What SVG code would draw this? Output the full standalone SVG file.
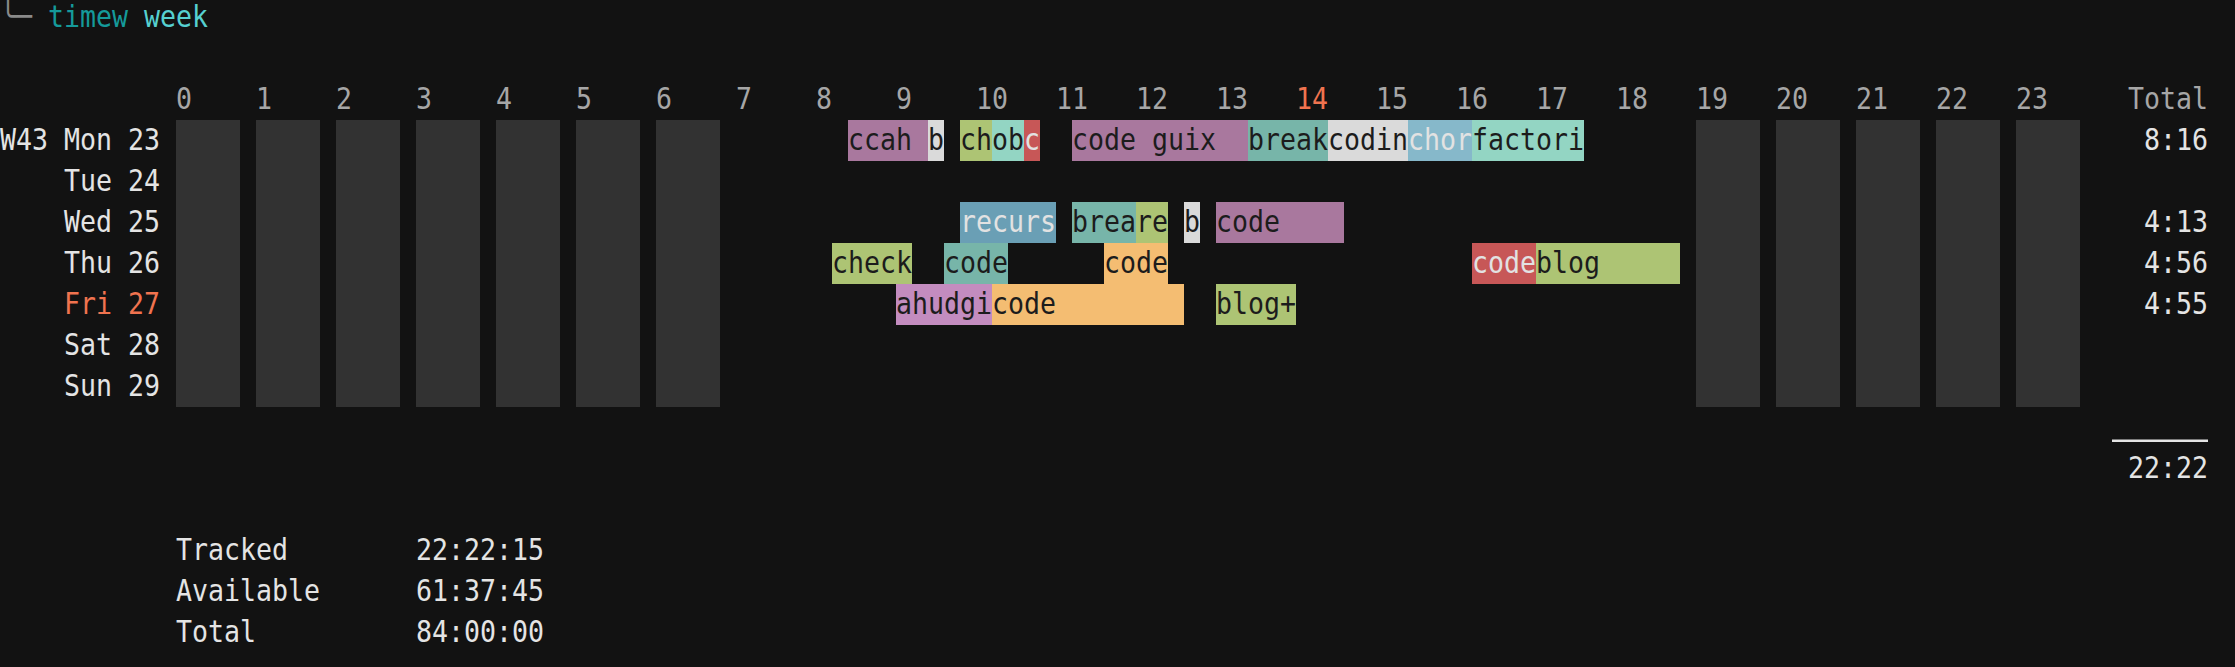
<svg xmlns="http://www.w3.org/2000/svg" width="2235" height="667" viewBox="0 0 2235 667">
<style>
text { font-family: "DejaVu Sans Mono", "Liberation Mono", monospace; font-size: 31px; }
.lbl { fill: #e4e4e4; }
.hr { fill: #a6a6a6; }
.now { fill: #f0734f; }
.dk { fill: #1c1c1c; }
.lt { fill: #e2e2e2; }
.prompt { fill: #8a8a8a; }
.cmd { fill: #159a9a; }
.arg { fill: #56d0d0; }
.bar { fill: #323232; }
.pu { fill: #a9789e; }
.lg { fill: #dadada; }
.gr { fill: #adc474; }
.mi { fill: #93d5c3; }
.rd { fill: #c75757; }
.te { fill: #77b5a9; }
.cb { fill: #86b8ca; }
.rb { fill: #6a9fb5; }
.or { fill: #f4bd72; }
.pk { fill: #c38cbf; }
</style>
<rect x="0" y="0" width="2235" height="667" fill="#121212"/>

<g id="title">
<text class="prompt" x="0" y="27" textLength="32" lengthAdjust="spacingAndGlyphs">╰─</text>
<text class="cmd" x="48" y="27" textLength="80" lengthAdjust="spacingAndGlyphs">timew</text>
<text class="arg" x="144" y="27" textLength="64" lengthAdjust="spacingAndGlyphs">week</text>
</g>

<g id="hours">
<text class="hr" x="176" y="109" textLength="16" lengthAdjust="spacingAndGlyphs">0</text>
<text class="hr" x="256" y="109" textLength="16" lengthAdjust="spacingAndGlyphs">1</text>
<text class="hr" x="336" y="109" textLength="16" lengthAdjust="spacingAndGlyphs">2</text>
<text class="hr" x="416" y="109" textLength="16" lengthAdjust="spacingAndGlyphs">3</text>
<text class="hr" x="496" y="109" textLength="16" lengthAdjust="spacingAndGlyphs">4</text>
<text class="hr" x="576" y="109" textLength="16" lengthAdjust="spacingAndGlyphs">5</text>
<text class="hr" x="656" y="109" textLength="16" lengthAdjust="spacingAndGlyphs">6</text>
<text class="hr" x="736" y="109" textLength="16" lengthAdjust="spacingAndGlyphs">7</text>
<text class="hr" x="816" y="109" textLength="16" lengthAdjust="spacingAndGlyphs">8</text>
<text class="hr" x="896" y="109" textLength="16" lengthAdjust="spacingAndGlyphs">9</text>
<text class="hr" x="976" y="109" textLength="32" lengthAdjust="spacingAndGlyphs">10</text>
<text class="hr" x="1056" y="109" textLength="32" lengthAdjust="spacingAndGlyphs">11</text>
<text class="hr" x="1136" y="109" textLength="32" lengthAdjust="spacingAndGlyphs">12</text>
<text class="hr" x="1216" y="109" textLength="32" lengthAdjust="spacingAndGlyphs">13</text>
<text class="now" x="1296" y="109" textLength="32" lengthAdjust="spacingAndGlyphs">14</text>
<text class="hr" x="1376" y="109" textLength="32" lengthAdjust="spacingAndGlyphs">15</text>
<text class="hr" x="1456" y="109" textLength="32" lengthAdjust="spacingAndGlyphs">16</text>
<text class="hr" x="1536" y="109" textLength="32" lengthAdjust="spacingAndGlyphs">17</text>
<text class="hr" x="1616" y="109" textLength="32" lengthAdjust="spacingAndGlyphs">18</text>
<text class="hr" x="1696" y="109" textLength="32" lengthAdjust="spacingAndGlyphs">19</text>
<text class="hr" x="1776" y="109" textLength="32" lengthAdjust="spacingAndGlyphs">20</text>
<text class="hr" x="1856" y="109" textLength="32" lengthAdjust="spacingAndGlyphs">21</text>
<text class="hr" x="1936" y="109" textLength="32" lengthAdjust="spacingAndGlyphs">22</text>
<text class="hr" x="2016" y="109" textLength="32" lengthAdjust="spacingAndGlyphs">23</text>
<text class="hr" x="2128" y="109" textLength="80" lengthAdjust="spacingAndGlyphs">Total</text>
</g>

<g id="days">
<text class="lbl" x="0" y="150" textLength="160" lengthAdjust="spacingAndGlyphs">W43 Mon 23</text>
<text class="lbl" x="64" y="191" textLength="96" lengthAdjust="spacingAndGlyphs">Tue 24</text>
<text class="lbl" x="64" y="232" textLength="96" lengthAdjust="spacingAndGlyphs">Wed 25</text>
<text class="lbl" x="64" y="273" textLength="96" lengthAdjust="spacingAndGlyphs">Thu 26</text>
<text class="now" x="64" y="314" textLength="96" lengthAdjust="spacingAndGlyphs">Fri 27</text>
<text class="lbl" x="64" y="355" textLength="96" lengthAdjust="spacingAndGlyphs">Sat 28</text>
<text class="lbl" x="64" y="396" textLength="96" lengthAdjust="spacingAndGlyphs">Sun 29</text>
</g>

<g id="offhours">
<rect class="bar" x="176" y="120" width="64" height="287"/>
<rect class="bar" x="256" y="120" width="64" height="287"/>
<rect class="bar" x="336" y="120" width="64" height="287"/>
<rect class="bar" x="416" y="120" width="64" height="287"/>
<rect class="bar" x="496" y="120" width="64" height="287"/>
<rect class="bar" x="576" y="120" width="64" height="287"/>
<rect class="bar" x="656" y="120" width="64" height="287"/>
<rect class="bar" x="1696" y="120" width="64" height="287"/>
<rect class="bar" x="1776" y="120" width="64" height="287"/>
<rect class="bar" x="1856" y="120" width="64" height="287"/>
<rect class="bar" x="1936" y="120" width="64" height="287"/>
<rect class="bar" x="2016" y="120" width="64" height="287"/>
</g>

<g id="mon">
<rect class="pu" x="848" y="120" width="80" height="41"/>
<rect class="lg" x="928" y="120" width="16" height="41"/>
<rect class="gr" x="960" y="120" width="32" height="41"/>
<rect class="mi" x="992" y="120" width="32" height="41"/>
<rect class="rd" x="1024" y="120" width="16" height="41"/>
<rect class="pu" x="1072" y="120" width="176" height="41"/>
<rect class="te" x="1248" y="120" width="80" height="41"/>
<rect class="lg" x="1328" y="120" width="80" height="41"/>
<rect class="cb" x="1408" y="120" width="64" height="41"/>
<rect class="mi" x="1472" y="120" width="112" height="41"/>
<text class="dk" x="848" y="150" textLength="64" lengthAdjust="spacingAndGlyphs">ccah</text>
<text class="dk" x="928" y="150" textLength="16" lengthAdjust="spacingAndGlyphs">b</text>
<text x="960" y="150" textLength="80" lengthAdjust="spacingAndGlyphs"><tspan class="dk">chob</tspan><tspan class="lt">c</tspan></text>
<text class="dk" x="1072" y="150" textLength="144" lengthAdjust="spacingAndGlyphs">code guix</text>
<text x="1248" y="150" textLength="336" lengthAdjust="spacingAndGlyphs"><tspan class="dk">breakcodin</tspan><tspan class="lt">chor</tspan><tspan class="dk">factori</tspan></text>
</g>

<g id="wed">
<rect class="rb" x="960" y="202" width="96" height="41"/>
<rect class="te" x="1072" y="202" width="64" height="41"/>
<rect class="gr" x="1136" y="202" width="32" height="41"/>
<rect class="lg" x="1184" y="202" width="16" height="41"/>
<rect class="pu" x="1216" y="202" width="128" height="41"/>
<text class="lt" x="960" y="232" textLength="96" lengthAdjust="spacingAndGlyphs">recurs</text>
<text class="dk" x="1072" y="232" textLength="96" lengthAdjust="spacingAndGlyphs">breare</text>
<text class="dk" x="1184" y="232" textLength="16" lengthAdjust="spacingAndGlyphs">b</text>
<text class="dk" x="1216" y="232" textLength="64" lengthAdjust="spacingAndGlyphs">code</text>
</g>

<g id="thu">
<rect class="gr" x="832" y="243" width="80" height="41"/>
<rect class="te" x="944" y="243" width="64" height="41"/>
<rect class="or" x="1104" y="243" width="64" height="41"/>
<rect class="rd" x="1472" y="243" width="64" height="41"/>
<rect class="gr" x="1536" y="243" width="144" height="41"/>
<text class="dk" x="832" y="273" textLength="80" lengthAdjust="spacingAndGlyphs">check</text>
<text class="dk" x="944" y="273" textLength="64" lengthAdjust="spacingAndGlyphs">code</text>
<text class="dk" x="1104" y="273" textLength="64" lengthAdjust="spacingAndGlyphs">code</text>
<text x="1472" y="273" textLength="128" lengthAdjust="spacingAndGlyphs"><tspan class="lt">code</tspan><tspan class="dk">blog</tspan></text>
</g>

<g id="fri">
<rect class="pk" x="896" y="284" width="96" height="41"/>
<rect class="or" x="992" y="284" width="192" height="41"/>
<rect class="gr" x="1216" y="284" width="80" height="41"/>
<text class="dk" x="896" y="314" textLength="160" lengthAdjust="spacingAndGlyphs">ahudgicode</text>
<text class="dk" x="1216" y="314" textLength="80" lengthAdjust="spacingAndGlyphs">blog+</text>
</g>

<g id="totals">
<text class="lbl" x="2144" y="150" textLength="64" lengthAdjust="spacingAndGlyphs">8:16</text>
<text class="lbl" x="2144" y="232" textLength="64" lengthAdjust="spacingAndGlyphs">4:13</text>
<text class="lbl" x="2144" y="273" textLength="64" lengthAdjust="spacingAndGlyphs">4:56</text>
<text class="lbl" x="2144" y="314" textLength="64" lengthAdjust="spacingAndGlyphs">4:55</text>
<rect x="2112" y="439.5" width="96" height="2.5" fill="#e4e4e4"/>
<text class="lbl" x="2128" y="478" textLength="80" lengthAdjust="spacingAndGlyphs">22:22</text>
</g>

<g id="summary">
<text class="lbl" x="176" y="560" textLength="112" lengthAdjust="spacingAndGlyphs">Tracked</text>
<text class="lbl" x="416" y="560" textLength="128" lengthAdjust="spacingAndGlyphs">22:22:15</text>
<text class="lbl" x="176" y="601" textLength="144" lengthAdjust="spacingAndGlyphs">Available</text>
<text class="lbl" x="416" y="601" textLength="128" lengthAdjust="spacingAndGlyphs">61:37:45</text>
<text class="lbl" x="176" y="642" textLength="80" lengthAdjust="spacingAndGlyphs">Total</text>
<text class="lbl" x="416" y="642" textLength="128" lengthAdjust="spacingAndGlyphs">84:00:00</text>
</g>
</svg>
